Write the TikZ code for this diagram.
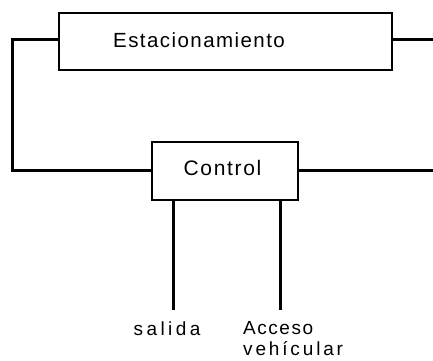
\documentclass[tikz,border=0pt]{standalone}
\usepackage{fontspec}
\setmainfont{Liberation Sans}
\begin{document}
\begin{tikzpicture}[x=1pt,y=-1pt,
  box/.style={draw,line width=2pt,minimum width=#1,inner sep=0pt},
  wire/.style={line width=3pt},
  lbl/.style={inner sep=0pt}]
\useasboundingbox (0,0) rectangle (433,360);
\node[box=333pt,minimum height=57pt] (est) at (225.5,41.5) {};
\node[font=\fontsize{20.5}{20}\selectfont\addfontfeature{LetterSpace=7},inner sep=0pt,anchor=base] (estl) at (199,47) {Estacionamiento};
\node[box=146pt,minimum height=58pt] (ctl) at (224.5,171) {};
\node[font=\fontsize{21}{21}\selectfont\addfontfeature{LetterSpace=8},inner sep=0pt,anchor=base] (ctll) at (222.5,175) {Control};
\coordinate (l1) at (12,39);
\coordinate (l2) at (12,170);
\coordinate (r1) at (433,39);
\coordinate (r2) at (433,170);
\coordinate (s) at (173,310);
\coordinate (a) at (280,310);
\draw[wire] (est.west |- l1) -- (l1) -- (l2) -- (ctl.west |- l2);
\draw[wire] (est.east |- r1) -- (r1);
\draw[wire] (ctl.east |- r2) -- (r2);
\draw[wire] (ctl.south -| s) -- (s);
\draw[wire] (ctl.south -| a) -- (a);
\node[lbl,font=\fontsize{19}{19}\selectfont\addfontfeature{LetterSpace=18},anchor=base] (sl) at (167,335) {salida};
\node[lbl,font=\fontsize{19}{19}\selectfont\addfontfeature{LetterSpace=8},anchor=base west] (al) at (243,334) {Acceso};
\node[lbl,font=\fontsize{19}{19}\selectfont\addfontfeature{LetterSpace=15},anchor=base west] (vl) at (243,355) {vehícular};
\end{tikzpicture}
\end{document}
